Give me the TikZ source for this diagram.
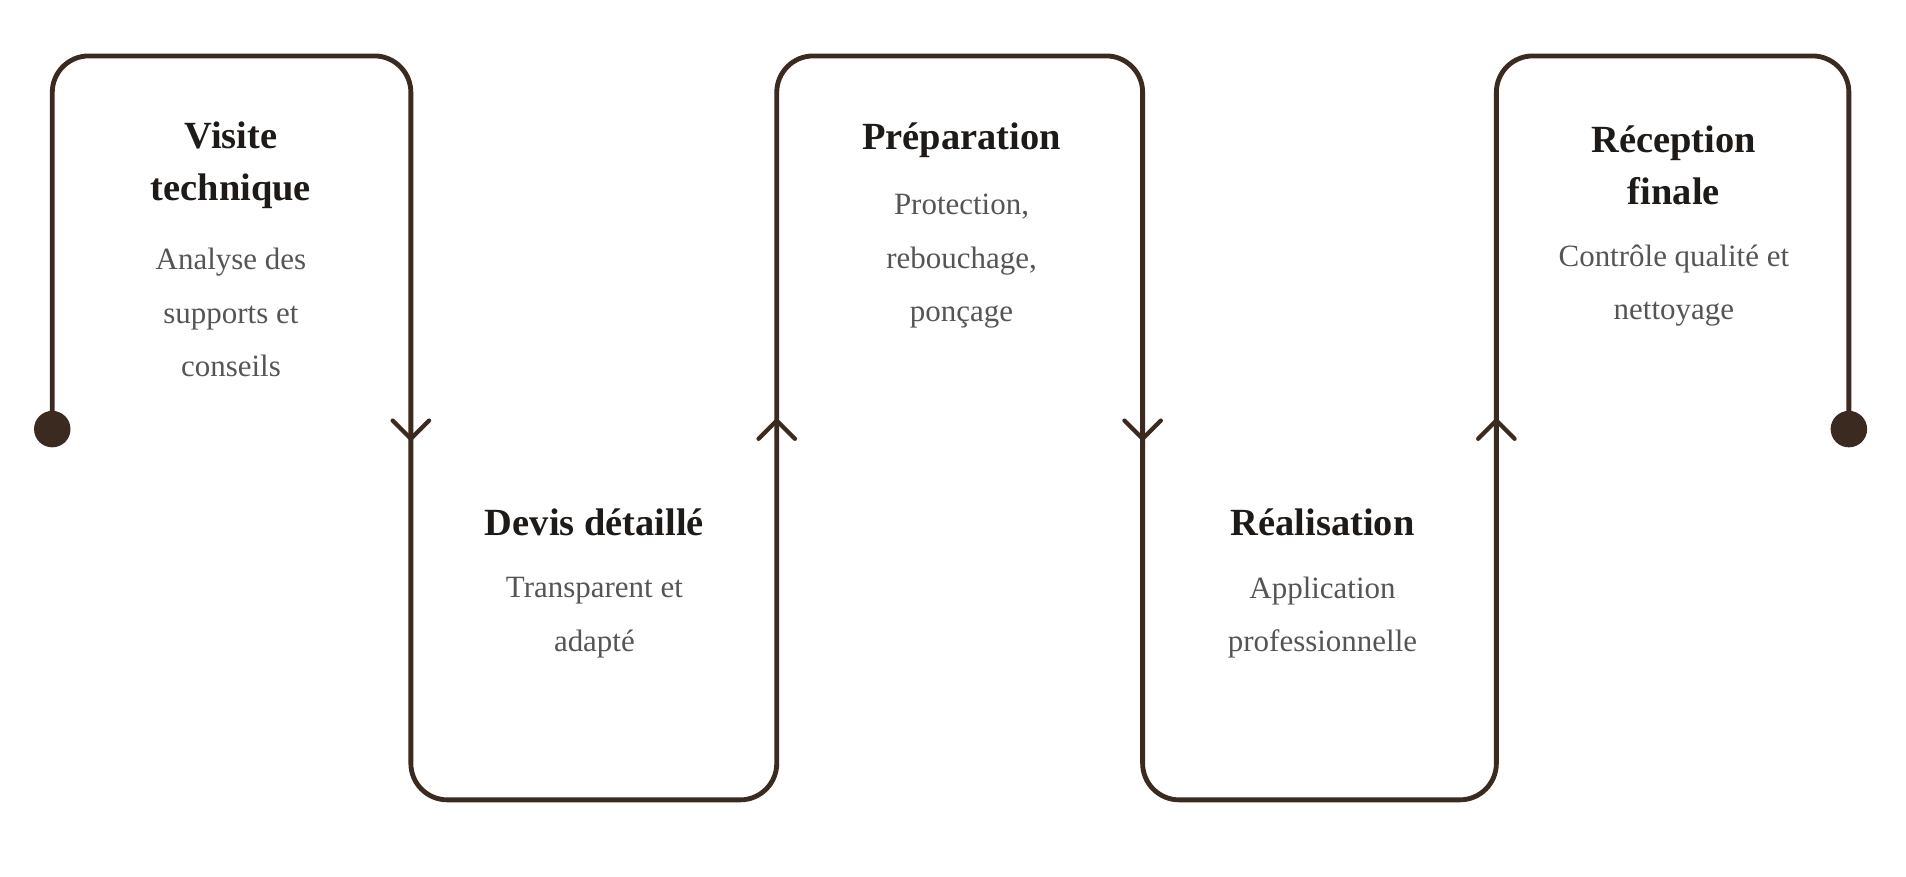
\documentclass[tikz,border=0pt]{standalone}
\usepackage{fontspec}
\setmainfont{Liberation Serif}
\begin{document}
\begin{tikzpicture}[x=0.02cm,y=-0.02cm,
  line/.style={draw=brn,line width=4*0.567pt,rounded corners=30*0.02cm},
  chev/.style={draw=brn,line width=3.5*0.567pt,line cap=round,line join=miter},
  ttl/.style={align=center,font=\fontsize{18}{24}\selectfont\bfseries,text=txt},
  bdy/.style={align=center,font=\fontsize{14.5}{25}\selectfont,text=gry}]
\definecolor{brn}{HTML}{3B2A1F}
\definecolor{txt}{HTML}{1E1A17}
\definecolor{gry}{HTML}{555555}
\useasboundingbox (0,0) rectangle (1568,721);
\coordinate (s) at (43,353);
\coordinate (e) at (1521,353);
\draw[line] (s) -- (43,46) -- (338,46) -- (338,658) -- (639,658) -- (639,46) -- (940,46) -- (940,658) -- (1231,658) -- (1231,46) -- (1521,46) -- (e);
\fill[brn] (s) circle (15);
\fill[brn] (e) circle (15);
\foreach \x in {338,940} \draw[chev] (\x-15,346) -- (\x,361) -- (\x+15,346);
\foreach \x in {639,1231} \draw[chev] (\x-15,361) -- (\x,346) -- (\x+15,361);
\node[ttl] (t1) at (190,136) {Visite\\technique};
\node[bdy] (b1) at (190,257) {Analyse des\\supports et\\conseils};
\node[ttl] (t2) at (489,430) {Devis détaillé};
\node[bdy] (b2) at (489,508) {Transparent et\\adapté};
\node[ttl] (t3) at (791,115) {Préparation};
\node[bdy] (b3) at (791,215) {Protection,\\rebouchage,\\ponçage};
\node[ttl] (t4) at (1088,430) {Réalisation};
\node[bdy] (b4) at (1088,508) {Application\\professionnelle};
\node[ttl] (t5) at (1377,136) {Réception\\finale};
\node[bdy] (b5) at (1377,235) {Contrôle qualité et\\nettoyage};
\end{tikzpicture}
\end{document}
